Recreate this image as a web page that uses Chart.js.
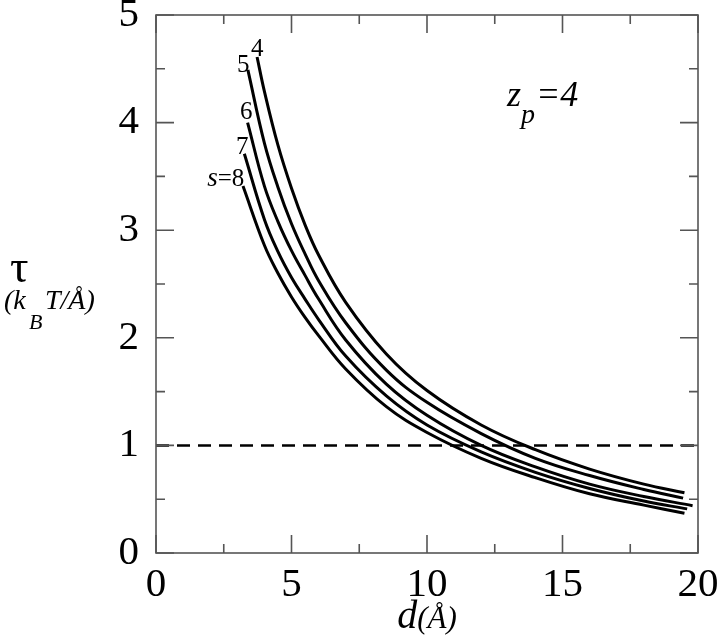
<!DOCTYPE html>
<html>
<head>
<meta charset="utf-8">
<script src="https://cdn.jsdelivr.net/npm/chart.js@4.4.1/dist/chart.umd.min.js"></script>
<style>
html,body{margin:0;padding:0;background:#fff;}
#wrap{width:720px;height:643px;position:relative;}
</style>
</head>
<body>
<div id="wrap"><canvas id="c"></canvas></div>
<script>
// ---- data ----
const d_s4 = [3.73, 4.0, 4.5, 5.0, 5.5, 6.0, 7, 8.5, 10, 12, 14, 16, 18, 19.5];
const t_s4 = [4.61, 4.29, 3.79, 3.39, 3.05, 2.77, 2.33, 1.85, 1.51, 1.19, 0.96, 0.78, 0.64, 0.56];
const d_s5 = [3.39, 4.0, 4.5, 5.0, 5.5, 6.0, 7, 8.5, 10, 12, 14, 16, 18, 19.45];
const t_s5 = [4.49, 3.81, 3.40, 3.06, 2.78, 2.53, 2.14, 1.70, 1.40, 1.11, 0.88, 0.72, 0.59, 0.51];
const d_s6 = [3.38, 4.0, 4.5, 5.0, 5.5, 6.0, 7, 8.5, 10, 12, 14, 16, 18, 19.8];
const t_s6 = [4.00, 3.41, 3.08, 2.81, 2.58, 2.36, 1.98, 1.57, 1.28, 1.00, 0.80, 0.64, 0.525, 0.44];
const d_s7 = [3.26, 4.0, 4.5, 5.0, 5.5, 6.0, 7, 8.5, 10, 12, 14, 16, 18, 19.6];
const t_s7 = [3.71, 3.10, 2.80, 2.56, 2.36, 2.17, 1.83, 1.46, 1.19, 0.94, 0.75, 0.60, 0.483, 0.41];
const d_s8 = [3.21, 4.0, 4.5, 5.0, 5.5, 6.0, 7, 8.5, 10, 12, 14, 16, 18, 19.5];
const t_s8 = [3.41, 2.86, 2.60, 2.38, 2.19, 2.02, 1.71, 1.36, 1.12, 0.88, 0.70, 0.55, 0.445, 0.37];
const refLineX = [0, 20];
const refLineY = [1, 1];
const xTicks = [0, 5, 10, 15, 20];
const yTicks = [0, 1, 2, 3, 4, 5];

function pts(xs, ys){ return xs.map((x,i)=>({x:x, y:ys[i]})); }

const curveStyle = {borderColor:'#000', borderWidth:3, pointRadius:0, fill:false, tension:0.4};

const datasets = [
  Object.assign({label:'s=4', data:pts(d_s4,t_s4)}, curveStyle),
  Object.assign({label:'s=5', data:pts(d_s5,t_s5)}, curveStyle),
  Object.assign({label:'s=6', data:pts(d_s6,t_s6)}, curveStyle),
  Object.assign({label:'s=7', data:pts(d_s7,t_s7)}, curveStyle),
  Object.assign({label:'s=8', data:pts(d_s8,t_s8)}, curveStyle),
  {label:'τ=1', data:pts(refLineX, refLineY), borderColor:'#000', borderWidth:2.5, borderDash:[13,8], pointRadius:0, fill:false, tension:0}
];

const SERIF = '"Liberation Serif", "DejaVu Serif", serif';

const decor = {
  id:'decor',
  afterDatasetsDraw(chart){
    const ctx = chart.ctx, a = chart.chartArea;
    const xs = chart.scales.x, ys = chart.scales.y;
    ctx.save();
    // frame
    ctx.strokeStyle = '#555';
    ctx.lineWidth = 1.6;
    ctx.strokeRect(a.left, a.top, a.right - a.left, a.bottom - a.top);
    // ticks (inward)
    ctx.beginPath();
    for (let v = 0; v <= 20.001; v += 2.5) {
      const px = xs.getPixelForValue(v);
      const L = (Math.abs(v % 5) < 1e-6) ? 18 : 9;
      ctx.moveTo(px, a.bottom); ctx.lineTo(px, a.bottom - L);
      ctx.moveTo(px, a.top); ctx.lineTo(px, a.top + L);
    }
    for (let v = 0; v <= 5.001; v += 0.5) {
      const py = ys.getPixelForValue(v);
      const L = (Math.abs(v % 1) < 1e-6) ? 18 : 9;
      ctx.moveTo(a.left, py); ctx.lineTo(a.left + L, py);
      ctx.moveTo(a.right, py); ctx.lineTo(a.right - L, py);
    }
    ctx.stroke();

    ctx.fillStyle = '#000';
    ctx.textBaseline = 'alphabetic';
    // curve labels
    ctx.font = '25px ' + SERIF;
    ctx.textAlign = 'center';
    const lab = (t, dx, ty) => ctx.fillText(t, xs.getPixelForValue(dx), ys.getPixelForValue(ty));
    lab('4', 3.74, 4.62);
    lab('5', 3.22, 4.47);
    lab('6', 3.33, 4.03);
    lab('7', 3.18, 3.71);
    ctx.textAlign = 'right';
    const bx = xs.getPixelForValue(3.26), by = ys.getPixelForValue(3.41);
    ctx.fillText('8', bx, by);
    const w8 = ctx.measureText('8').width;
    ctx.fillText('=', bx - w8, by);
    const weq = ctx.measureText('=').width;
    ctx.font = 'italic 27px ' + SERIF;
    ctx.fillText('s', bx - w8 - weq, by);

    // z_p = 4
    ctx.textAlign = 'left';
    const zx = xs.getPixelForValue(12.95), zy = ys.getPixelForValue(4.15);
    ctx.font = 'italic 36px ' + SERIF;
    ctx.fillText('z', zx, zy);
    ctx.font = 'italic 28px ' + SERIF;
    ctx.fillText('p', zx + 14, zy + 17);
    ctx.font = 'italic 36px ' + SERIF;
    ctx.fillText('=4', zx + 29, zy);

    // x-axis title
    const cx = (a.left + a.right) / 2;
    ctx.font = 'italic 40px ' + SERIF;
    ctx.textAlign = 'left';
    const dw = ctx.measureText('d').width;
    ctx.font = 'italic 31px ' + SERIF;
    const rw = ctx.measureText('(Å)').width;
    const sx = cx - (dw + rw) / 2;
    ctx.font = 'italic 40px ' + SERIF;
    ctx.fillText('d', sx, 628);
    ctx.font = 'italic 31px ' + SERIF;
    ctx.fillText('(Å)', sx + dw, 628);

    // y-axis title
    ctx.font = '46px ' + SERIF;
    ctx.fillText('τ', 10, 282);
    ctx.font = 'italic 28px ' + SERIF;
    ctx.fillText('(k', 4, 309);
    ctx.font = 'italic 22px ' + SERIF;
    ctx.fillText('B', 29, 329);
    ctx.font = 'italic 28px ' + SERIF;
    ctx.fillText('T/Å)', 45, 309);
    ctx.restore();
  }
};

new Chart(document.getElementById('c'), {
  type:'line',
  data:{datasets:datasets},
  options:{
    responsive:true, maintainAspectRatio:false, animation:false,
    layout:{padding:{left:0, top:15, right:22, bottom:0}},
    plugins:{legend:{display:false}, tooltip:{enabled:false}},
    scales:{
      x:{type:'linear', min:0, max:20,
        afterBuildTicks(s){ s.ticks = xTicks.map(v=>({value:v})); },
        grid:{display:false}, border:{display:false},
        ticks:{color:'#000', padding:0, maxRotation:0, font:{family:SERIF, size:41}},
        afterFit(s){ s.height = 90; s.paddingLeft=0; s.paddingRight=0; }
      },
      y:{type:'linear', min:0, max:5,
        afterBuildTicks(s){ s.ticks = yTicks.map(v=>({value:v})); },
        grid:{display:false}, border:{display:false},
        ticks:{color:'#000', padding:9, font:{family:SERIF, size:41}},
        afterFit(s){ s.width = 156; s.paddingTop=0; s.paddingBottom=0; }
      }
    }
  },
  plugins:[decor]
});
</script>
</body>
</html>
